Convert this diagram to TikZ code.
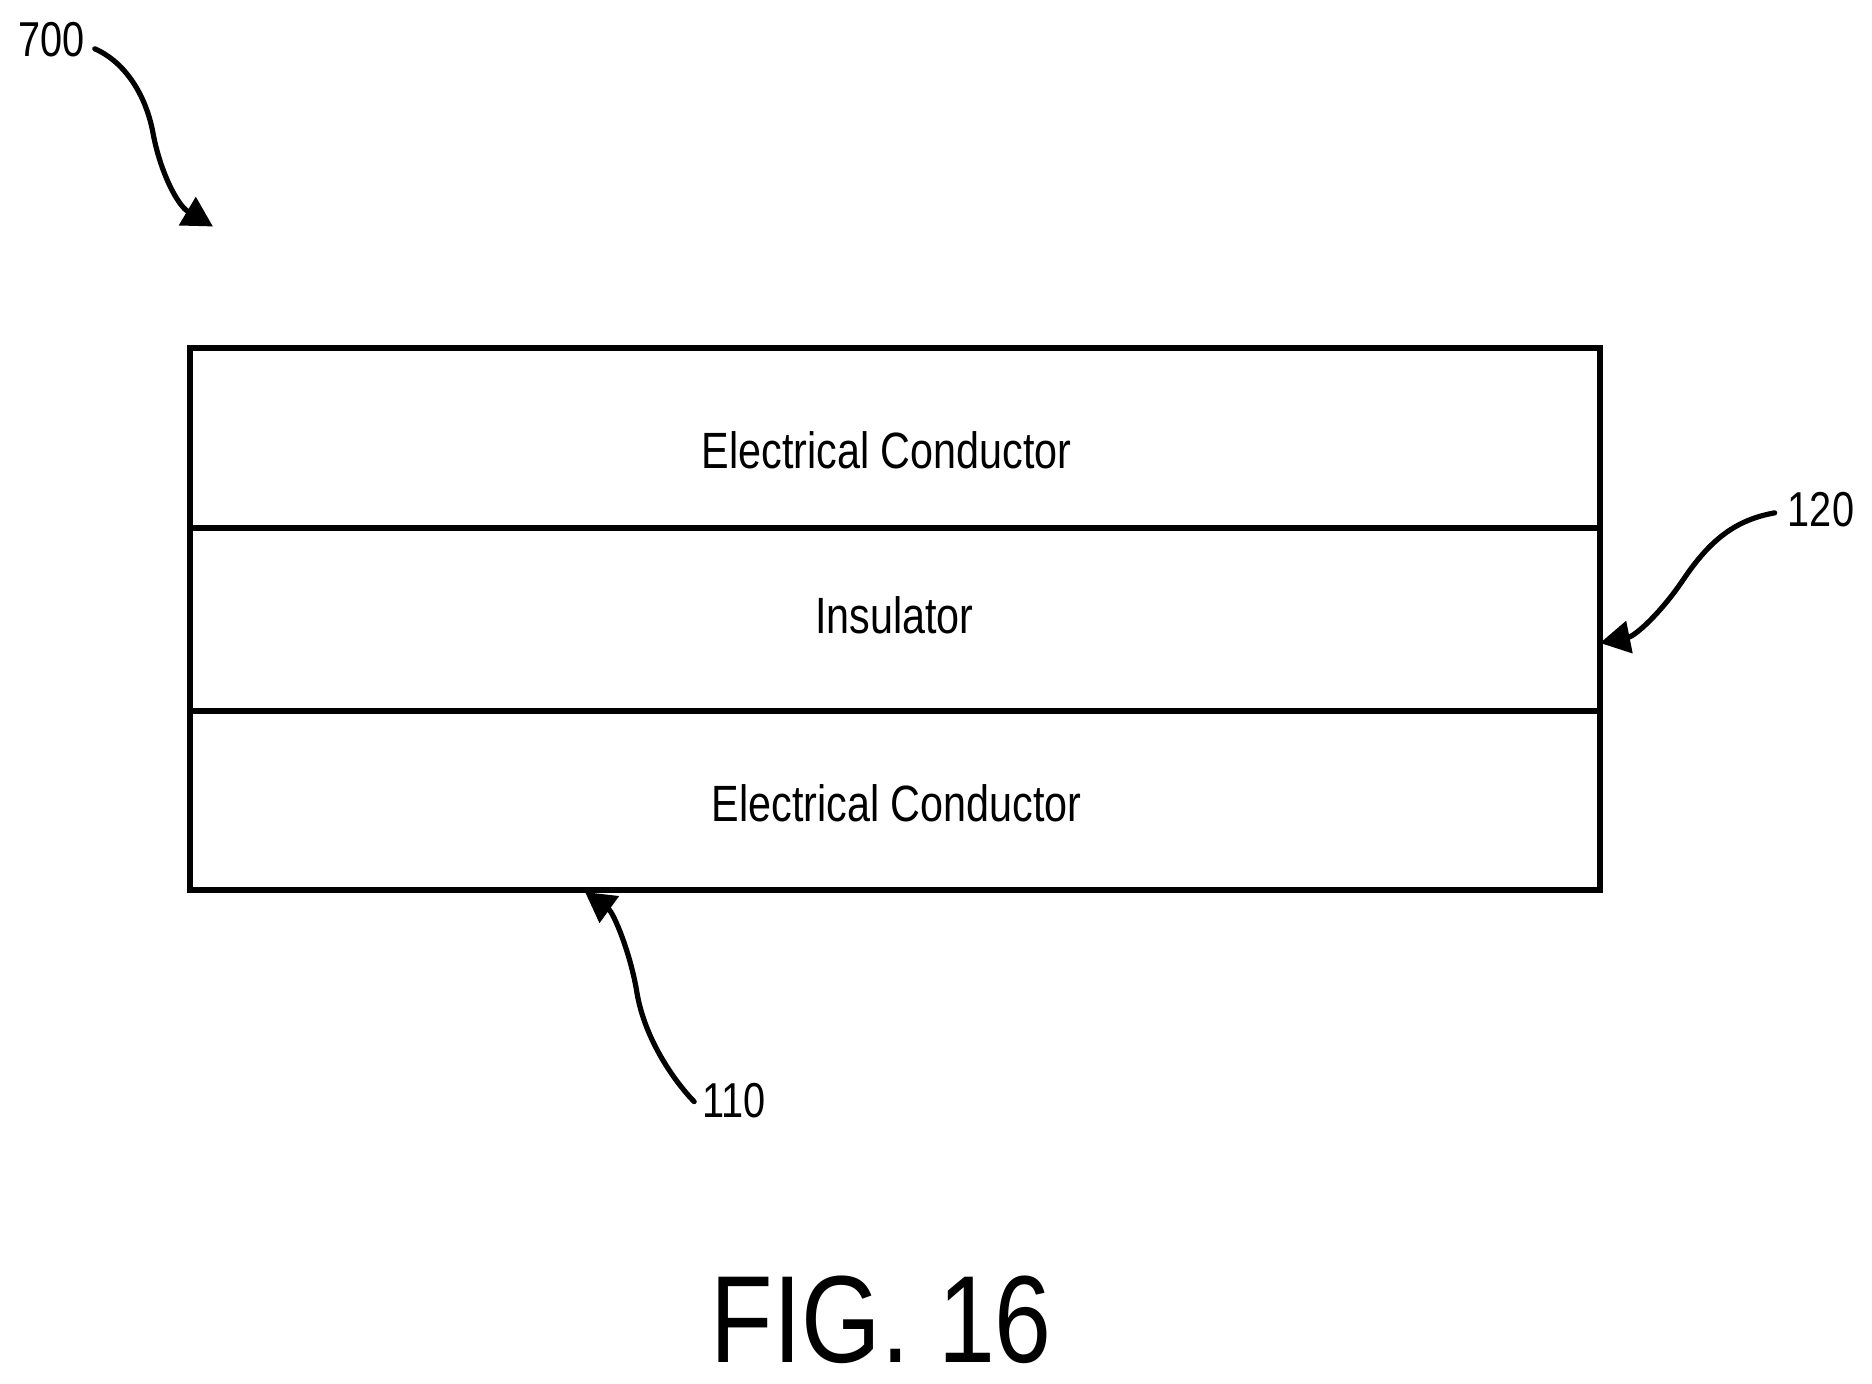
\documentclass[tikz,border=0pt]{standalone}
\usepackage{fontspec}
\setmainfont{Liberation Sans}[FakeStretch=0.81]
\newfontfamily\figfont{Liberation Sans}[FakeStretch=0.825]
\usetikzlibrary{positioning,arrows.meta}
\tikzset{
  layer/.style={rectangle, draw, line width=5.6pt, outer sep=0pt, minimum width=1410pt},
  layer label/.style={font=\fontsize{51}{51}\selectfont, inner sep=0pt, anchor=base},
  ref label/.style={font=\fontsize{49}{49}\selectfont, inner sep=10pt, anchor=base},
  ref arrow/.style={line width=5.2pt, line cap=round, -{Triangle[length=30pt,width=32pt]}},
}

\begin{document}
\begin{tikzpicture}[x=1pt, y=-1pt]
	\useasboundingbox (0,0) rectangle (1872,1384);

	% Layers
	\node (upper) [layer, minimum height=180pt] at (895,438) {};
	\node (insulator) [layer, below=0pt of upper, minimum height=183pt] {};
	\node (lower) [layer, below=0pt of insulator, minimum height=179pt] {};

	% Layer texts
	\node (upperText) [layer label] at (886.5,468.3) {Electrical Conductor};
	\node (insulatorText) [layer label] at (894.5,633.3) {Insulator};
	\node (lowerText) [layer label] at (896.5,821.7) {Electrical Conductor};

	% Reference numbers
	\node (ref700) [ref label] at (51.5,56.7) {700};
	\node (ref120) [ref label] at (1821,526.7) {120};
	\node (ref110) [ref label] at (734,1117) {110};
	\node (figure) [font=\figfont\fontsize{124}{124}\selectfont, inner sep=0pt, anchor=base] at (881.3,1362.7) {FIG. 16};

	% Arrow targets
	\coordinate (tip700) at (213,226.5);
	\coordinate (tip120) at (1600,643);
	\coordinate (tip110) at ([shift={(-310pt,-2pt)}]lower.south);

	% Arrows
	\draw[ref arrow] ([yshift=-9pt]ref700.east) .. controls (125,62) and (146,95) .. (153,133) .. controls (160,171) and (177,205) .. (tip700);
	\draw[ref arrow] ([shift={(-3pt,-3pt)}]ref120.west) .. controls (1735,520) and (1710,540) .. (1683,580) .. controls (1660,614) and (1635,636) .. (tip120);
	\draw[ref arrow] ([shift={(2pt,-1.5pt)}]ref110.west) .. controls (675,1082) and (645,1040) .. (637,993) .. controls (631,955) and (614,913) .. (tip110);
\end{tikzpicture}
\end{document}
